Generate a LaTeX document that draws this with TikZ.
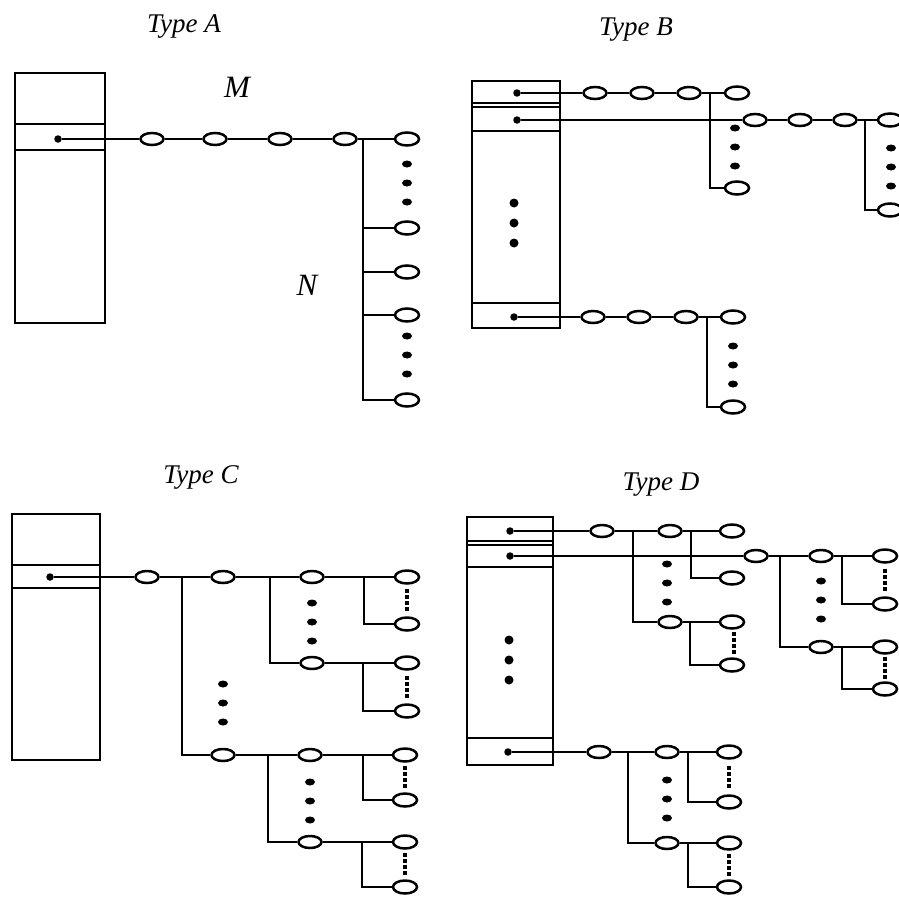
\documentclass[tikz,border=0pt]{standalone}
\usepackage{fontspec}
\setmainfont{Liberation Serif}
\usetikzlibrary{shapes.geometric}

\begin{document}
\begin{tikzpicture}[
  x=1pt, y=-1pt,
  ring/.style={draw, ellipse, line width=2.5pt, minimum width=23pt, minimum height=12pt, inner sep=0pt},
  leaf/.style={ring, minimum width=24pt, minimum height=13pt},
  tap/.style={circle, fill, inner sep=0pt, minimum size=7.5pt},
  blob/.style={ellipse, fill, inner sep=0pt, minimum width=10pt, minimum height=7pt},
  knob/.style={circle, fill, inner sep=0pt, minimum size=9pt},
  speck/.style={rectangle, fill, inner sep=0pt, minimum size=4pt},
  wire/.style={line width=2.5pt},
  frame/.style={line width=2.5pt},
  title/.style={font=\fontsize{27}{32}\selectfont\itshape, anchor=base},
  label/.style={font=\fontsize{31}{36}\selectfont\itshape, anchor=base},
]
  \useasboundingbox (0,0) rectangle (899,897);

  % Titles
  \node[title] (tA) at (184,32) {Type A};
  \node[title] (tB) at (636,35) {Type B};
  \node[title] (tC) at (201,483) {Type C};
  \node[title] (tD) at (661,490) {Type D};

  % ---------------- Type A ----------------
  \draw[frame] (15,73) rectangle (105,323);
  \draw[frame] (15,124) -- (105,124) (15,150) -- (105,150);
  \node[tap] (Atap) at (58,139) {};
  \node[ring] (A1) at (152,139) {};
  \node[ring] (A2) at (215,139) {};
  \node[ring] (A3) at (280,139) {};
  \node[ring] (A4) at (345,139) {};
  \coordinate (Aj) at (363,139);
  \node[leaf] (Al1) at (407,139) {};
  \node[leaf] (Al2) at (407,228) {};
  \node[leaf] (Al3) at (407,272) {};
  \node[leaf] (Al4) at (407,315) {};
  \node[leaf] (Al5) at (407,400) {};
  \node[label] (M) at (237,97) {M};
  \node[label] (N) at (307,295) {N};

  \draw[wire] (Atap) -- (A1) -- (A2) -- (A3) -- (A4) -- (Al1);
  \draw[wire] (Aj) |- (Al2);
  \draw[wire] (Aj) |- (Al3);
  \draw[wire] (Aj) |- (Al4);
  \draw[wire] (Aj) |- (Al5);

  % ---------------- Type B ----------------
  \draw[frame] (472,81) rectangle (560,328);
  \draw[line width=1.8pt] (472,103) -- (560,103) (472,107) -- (560,107);
  \draw[frame] (472,131) -- (560,131) (472,303) -- (560,303);
  \node[tap] (Btap1) at (517,93) {};
  \node[tap] (Btap2) at (517,120) {};
  \node[tap] (Btap3) at (514,317) {};
  % first slot
  \node[ring] (B1) at (595,93) {};
  \node[ring] (B2) at (642,93) {};
  \node[ring] (B3) at (689,93) {};
  \coordinate (Bj1) at (710,93);
  \node[leaf] (Bl1) at (737,93) {};
  \node[leaf] (Bl2) at (737,188) {};
  % second slot
  \node[ring] (B4) at (755,120) {};
  \node[ring] (B5) at (800,120) {};
  \node[ring] (B6) at (845,120) {};
  \coordinate (Bj2) at (865,120);
  \node[leaf] (Bl3) at (890,120) {};
  \node[leaf] (Bl4) at (890,210) {};
  % last slot
  \node[ring] (B7) at (593,317) {};
  \node[ring] (B8) at (639,317) {};
  \node[ring] (B9) at (686,317) {};
  \coordinate (Bj3) at (707,317);
  \node[leaf] (Bl5) at (733,317) {};
  \node[leaf] (Bl6) at (733,407) {};

  \draw[wire] (Btap1) -- (B1) -- (B2) -- (B3) -- (Bl1);
  \draw[wire] (Bj1) |- (Bl2);
  \draw[wire] (Btap2) -- (B4) -- (B5) -- (B6) -- (Bl3);
  \draw[wire] (Bj2) |- (Bl4);
  \draw[wire] (Btap3) -- (B7) -- (B8) -- (B9) -- (Bl5);
  \draw[wire] (Bj3) |- (Bl6);

  % ---------------- Type C ----------------
  \draw[frame] (12,514) rectangle (100,760);
  \draw[frame] (12,565) -- (100,565) (12,588) -- (100,588);
  \node[tap] (Ctap) at (50,577) {};
  \node[ring] (C1) at (147,577) {};
  \coordinate (Cj1) at (182,577);
  \node[ring] (C2a) at (223,577) {};
  \node[ring] (C2b) at (223,755) {};
  \coordinate (Cj2a) at (270,577);
  \coordinate (Cj2b) at (268,755);
  \node[ring] (C3a) at (312,577) {};
  \node[ring] (C3b) at (312,663) {};
  \node[ring] (C3c) at (310,755) {};
  \node[ring] (C3d) at (310,842) {};
  \coordinate (Cj3a) at (364,577);
  \coordinate (Cj3b) at (363,663);
  \coordinate (Cj3c) at (363,755);
  \coordinate (Cj3d) at (362,842);
  \node[leaf] (Cl1) at (407,577) {};
  \node[leaf] (Cl2) at (407,624) {};
  \node[leaf] (Cl3) at (407,663) {};
  \node[leaf] (Cl4) at (407,711) {};
  \node[leaf] (Cl5) at (405,755) {};
  \node[leaf] (Cl6) at (405,800) {};
  \node[leaf] (Cl7) at (405,842) {};
  \node[leaf] (Cl8) at (405,887) {};

  \draw[wire] (Ctap) -- (C1) -- (C2a) -- (C3a) -- (Cl1);
  \draw[wire] (Cj1) |- (C2b);
  \draw[wire] (Cj2a) |- (C3b);
  \draw[wire] (C2b) -- (C3c) -- (Cl5);
  \draw[wire] (Cj2b) |- (C3d);
  \draw[wire] (C3b) -- (Cl3);
  \draw[wire] (C3d) -- (Cl7);
  \draw[wire] (Cj3a) |- (Cl2);
  \draw[wire] (Cj3b) |- (Cl4);
  \draw[wire] (Cj3c) |- (Cl6);
  \draw[wire] (Cj3d) |- (Cl8);

  % ---------------- Type D ----------------
  \draw[frame] (467,517) rectangle (553,765);
  \draw[line width=1.8pt] (467,541) -- (553,541) (467,545) -- (553,545);
  \draw[frame] (467,567) -- (553,567) (467,738) -- (553,738);
  \node[tap] (Dtap1) at (510,531) {};
  \node[tap] (Dtap2) at (510,556) {};
  \node[tap] (Dtap3) at (508,752) {};
  % first slot
  \node[ring] (D1) at (602,531) {};
  \coordinate (Dj1) at (633,531);
  \node[ring] (D2a) at (670,531) {};
  \node[ring] (D2b) at (670,622) {};
  \coordinate (Dj2a) at (691,531);
  \coordinate (Dj2b) at (690,622);
  \node[leaf] (Dl1) at (732,531) {};
  \node[leaf] (Dl2) at (732,578) {};
  \node[leaf] (Dl3) at (732,622) {};
  \node[leaf] (Dl4) at (732,665) {};
  % second slot
  \node[ring] (E1) at (756,556) {};
  \coordinate (Ej1) at (780,556);
  \node[ring] (E2a) at (821,556) {};
  \node[ring] (E2b) at (821,647) {};
  \coordinate (Ej2a) at (842,556);
  \coordinate (Ej2b) at (842,647);
  \node[leaf] (El1) at (885,556) {};
  \node[leaf] (El2) at (885,604) {};
  \node[leaf] (El3) at (885,647) {};
  \node[leaf] (El4) at (885,689) {};
  % last slot
  \node[ring] (F1) at (599,752) {};
  \coordinate (Fj1) at (628,752);
  \node[ring] (F2a) at (667,752) {};
  \node[ring] (F2b) at (667,843) {};
  \coordinate (Fj2a) at (688,752);
  \coordinate (Fj2b) at (688,843);
  \node[leaf] (Fl1) at (729,752) {};
  \node[leaf] (Fl2) at (729,802) {};
  \node[leaf] (Fl3) at (729,843) {};
  \node[leaf] (Fl4) at (729,887) {};

  \draw[wire] (Dtap1) -- (D1) -- (D2a) -- (Dl1);
  \draw[wire] (Dj1) |- (D2b);
  \draw[wire] (D2b) -- (Dl3);
  \draw[wire] (Dj2a) |- (Dl2);
  \draw[wire] (Dj2b) |- (Dl4);
  \draw[wire] (Dtap2) -- (E1) -- (E2a) -- (El1);
  \draw[wire] (Ej1) |- (E2b);
  \draw[wire] (E2b) -- (El3);
  \draw[wire] (Ej2a) |- (El2);
  \draw[wire] (Ej2b) |- (El4);
  \draw[wire] (Dtap3) -- (F1) -- (F2a) -- (Fl1);
  \draw[wire] (Fj1) |- (F2b);
  \draw[wire] (F2b) -- (Fl3);
  \draw[wire] (Fj2a) |- (Fl2);
  \draw[wire] (Fj2b) |- (Fl4);

  % Ellipsis dots
  \foreach \x/\m/\n in {407/183/a1, 407/355/a2, 735/147/b1, 891/167/b2, 733/365/b3,
                        223/703/c1, 312/622/c2, 310/801/c3, 667/583/d1, 821/600/d2, 667/799/d3}
    \foreach \d [count=\k] in {-19,0,19}
      \node[blob] (dot\n-\k) at (\x,\m+\d) {};
  \foreach \x/\m/\n in {514/223/b, 509/660/d}
    \foreach \d [count=\k] in {-20,0,20}
      \node[knob] (slot\n-\k) at (\x,\m+\d) {};
  \foreach \x/\m/\n in {407/600/c1, 407/687/c2, 405/777/c3, 405/864/c4,
                        734/643/d1, 885/580/d2, 885/668/d3, 729/777/d4, 729/865/d5}
    \foreach \d [count=\k] in {-9,-3,3,9}
      \node[speck] (sp\n-\k) at (\x,\m+\d) {};
\end{tikzpicture}
\end{document}
